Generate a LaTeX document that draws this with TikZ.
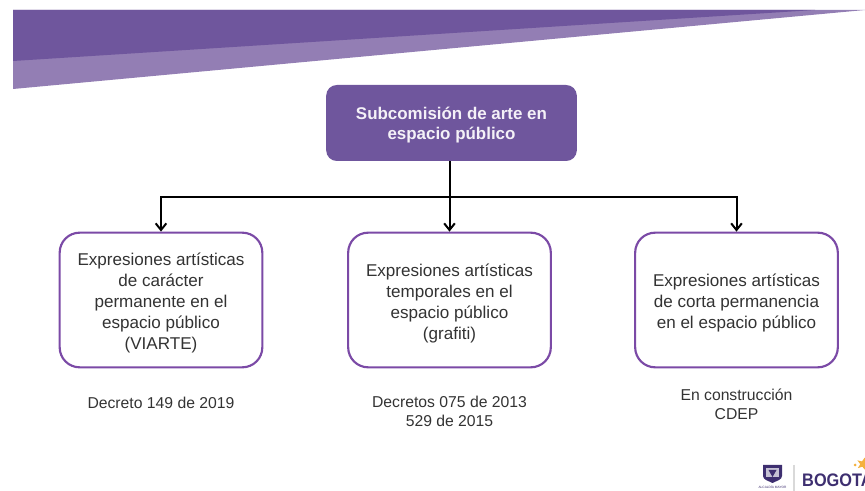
\documentclass[tikz,border=0pt]{standalone}
\usepackage{fontspec}
\setmainfont{Liberation Sans}
\usetikzlibrary{arrows.meta,shapes.geometric}
\definecolor{darkp}{HTML}{6F569D}
\definecolor{lightp}{HTML}{937EB4}
\definecolor{edgep}{HTML}{7B4AA6}
\definecolor{logop}{HTML}{3E2F70}
\definecolor{textg}{HTML}{333333}
\definecolor{stargold}{HTML}{F4B13D}
\newcommand{\boxgap}{\mbox{}\\[-1.55pt]}
\newcommand{\headgap}{\mbox{}\\[-2.8pt]}
\tikzset{
  px/.style={x=0.75pt,y=-0.75pt},
  head/.style={draw=none,fill=darkp,rounded corners=8pt,minimum width=188pt,minimum height=57pt,align=center,text=white!92!darkp,font=\fontsize{12.7pt}{15pt}\selectfont\bfseries,inner sep=0pt},
  box/.style={draw=edgep,line width=1.6pt,fill=white,rounded corners=15pt,minimum width=152pt,minimum height=101pt,align=center,text=textg,font=\fontsize{12.8pt}{15.75pt}\selectfont,inner sep=0pt},
  note/.style={align=center,text=textg,font=\fontsize{11.8pt}{14.6pt}\selectfont,inner sep=0pt},
  conn/.style={draw=black,line width=1.5pt,-{Straight Barb[length=5pt,width=8pt]}},
}
\begin{document}
\begin{tikzpicture}[px]
\useasboundingbox (0,0) rectangle (865,491);
\fill[lightp] (13,10) -- (865,10) -- (13,89) -- cycle;
\fill[darkp] (13,10) -- (815,10) -- (13,61) -- cycle;
\node[head] (top) at (451.5,123) {\headgap Subcomisión de arte en\\espacio público};
\node[box] (a) at (161,300) {\boxgap Expresiones artísticas\\de carácter\\permanente en el\\espacio público\\(VIARTE)};
\node[box] (b) at (449.5,300) {\boxgap Expresiones artísticas\\temporales en el\\espacio público\\(grafiti)};
\node[box] (c) at (736.5,300) {\boxgap Expresiones artísticas\\de corta permanencia\\en el espacio público};
\coordinate (bus) at (449.5,197);
\draw[conn] (top.south -| b.north) -- (b.north);
\draw[conn] (bus) -| (a.north);
\draw[conn] (bus) -| (c.north);
\node[note] (na) at (161,402.5) {Decreto 149 de 2019};
\node[note] (nb) at (449.5,411.5) {Decretos 075 de 2013\\529 de 2015};
\node[note] (nc) at (736.5,404.5) {En construcción\\CDEP};
% logo
\fill[logop] (763,465) -- (782,465) -- (782,476) .. controls (782,480) and (776,481) .. (772.5,483) .. controls (769,481) and (763,480) .. (763,476) -- cycle;
\fill[white!70!logop] (766,468) rectangle (779,477);
\fill[logop] (772.5,477) -- (768.5,470) -- (776.5,470) -- cycle;
\node[font=\fontsize{2.4pt}{2.4pt}\selectfont,text=logop,inner sep=0pt] (logosub) at (772.5,487) {ALCALDÍA MAYOR};
\draw[black!15,line width=1pt] (794,465) -- (794,491);
\node[font=\fontsize{13.6pt}{13.6pt}\selectfont\bfseries,text=logop,inner sep=0pt,anchor=west,xscale=0.9] (logo) at (802,480) {BOGOTA};
\node[star,star points=5,star point ratio=2.4,fill=stargold,inner sep=0pt,minimum size=10pt,rotate=-15] (logostar) at (863,464) {};
\fill[stargold] (855,465) circle (1.5);
\end{tikzpicture}
\end{document}
